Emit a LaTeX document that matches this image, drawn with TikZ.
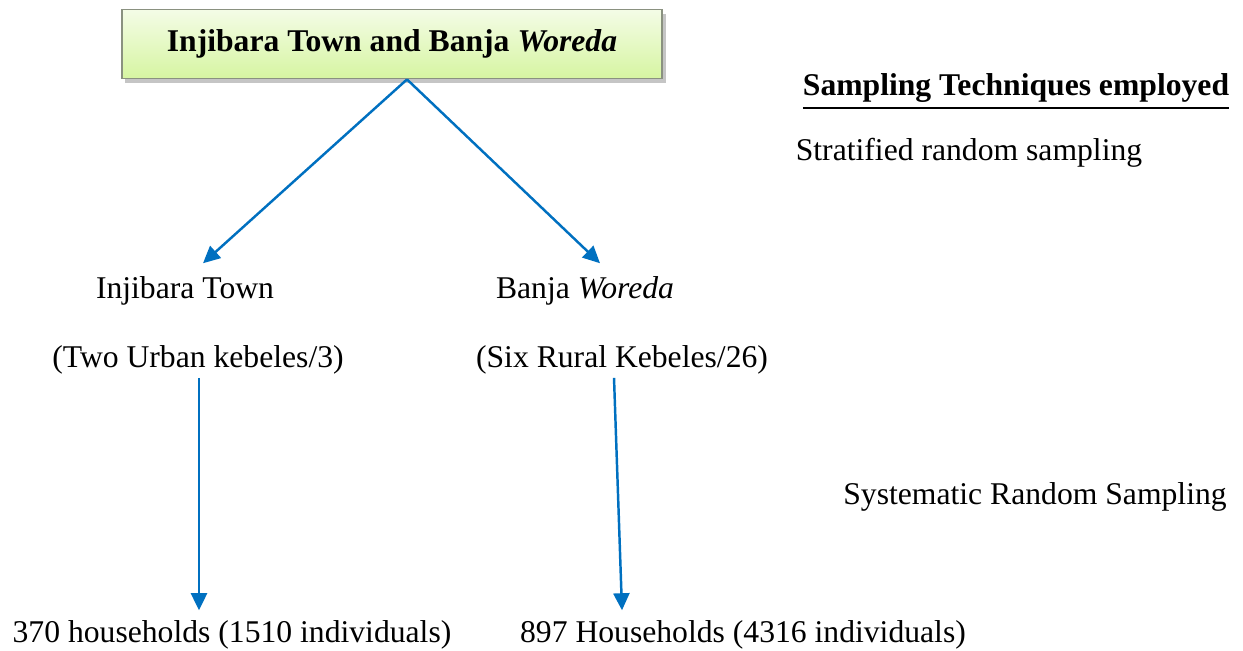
\documentclass[tikz,border=0pt]{standalone}
\usepackage{fontspec}
\setmainfont{Liberation Serif}
\usepackage{tikz}
\usetikzlibrary{positioning,arrows.meta,shadows,calc}
\definecolor{cArrow}{HTML}{0070C0}
\definecolor{cBoxTop}{HTML}{F4FCE6}
\definecolor{cBoxBot}{HTML}{D6F5A2}
\definecolor{cBoxLine}{HTML}{8A9180}
\definecolor{cInk}{HTML}{000000}

\begin{document}
\begin{tikzpicture}[
  x=0.01cm, y=-0.01cm,
  font=\fontsize{9}{11}\selectfont,
  >={Triangle[length=1.7mm,width=1.6mm]},
  area/.style={draw=cBoxLine, line width=0.5pt, top color=cBoxTop,
               bottom color=cBoxBot, minimum width=5.4cm, minimum height=0.69cm,
               font=\fontsize{9}{11}\selectfont\bfseries, text=cInk,
               drop shadow={shadow xshift=0.35mm, shadow yshift=-0.45mm,
                            fill=black!45}},
  lbl/.style={text=cInk},
  flow/.style={->, draw=cArrow, line width=0.7pt}]

\useasboundingbox (0,0) rectangle (1243,650);

% ---------- study area ----------
\node[area] (area) at (392,44) {Injibara Town and Banja \textit{Woreda}};
\coordinate (split) at ($(area.south)+(15,0)$);

% ---------- strata ----------
\node[lbl] (town) at (185,291) {Injibara Town};
\node[lbl] (banja) at (585,291) {Banja \textit{Woreda}};
\node[lbl] (urban) at (198,360) {(Two Urban kebeles/3)};
\node[lbl] (rural) at (622,360) {(Six Rural Kebeles/26)};

% ---------- samples ----------
\node[lbl] (hhA) at (232,635) {370 households (1510 individuals)};
\node[lbl] (hhB) at (743,635) {897 Households (4316 individuals)};

% ---------- techniques ----------
\node[lbl, font=\fontsize{9}{11}\selectfont\bfseries] (tech) at (1016,92)
     {\underline{Sampling Techniques employed}};
\node[lbl] (strat) at (969,153) {Stratified random sampling};
\node[lbl] (syst) at (1035,497) {Systematic Random Sampling};

% ---------- edges ----------
\draw[flow] (split) -- ($(town.north)+(18,-1)$);
\draw[flow] (split) -- ($(banja.north)+(15,-1)$);
\draw[flow] ($(urban.south)+(1,-9)$) -- ($(urban.south |- hhA.north)+(1,2)$);
\draw[flow] ($(rural.south)+(-8,-9)$) -- ($(rural.south |- hhB.north)+(0,2)$);
\end{tikzpicture}
\end{document}
